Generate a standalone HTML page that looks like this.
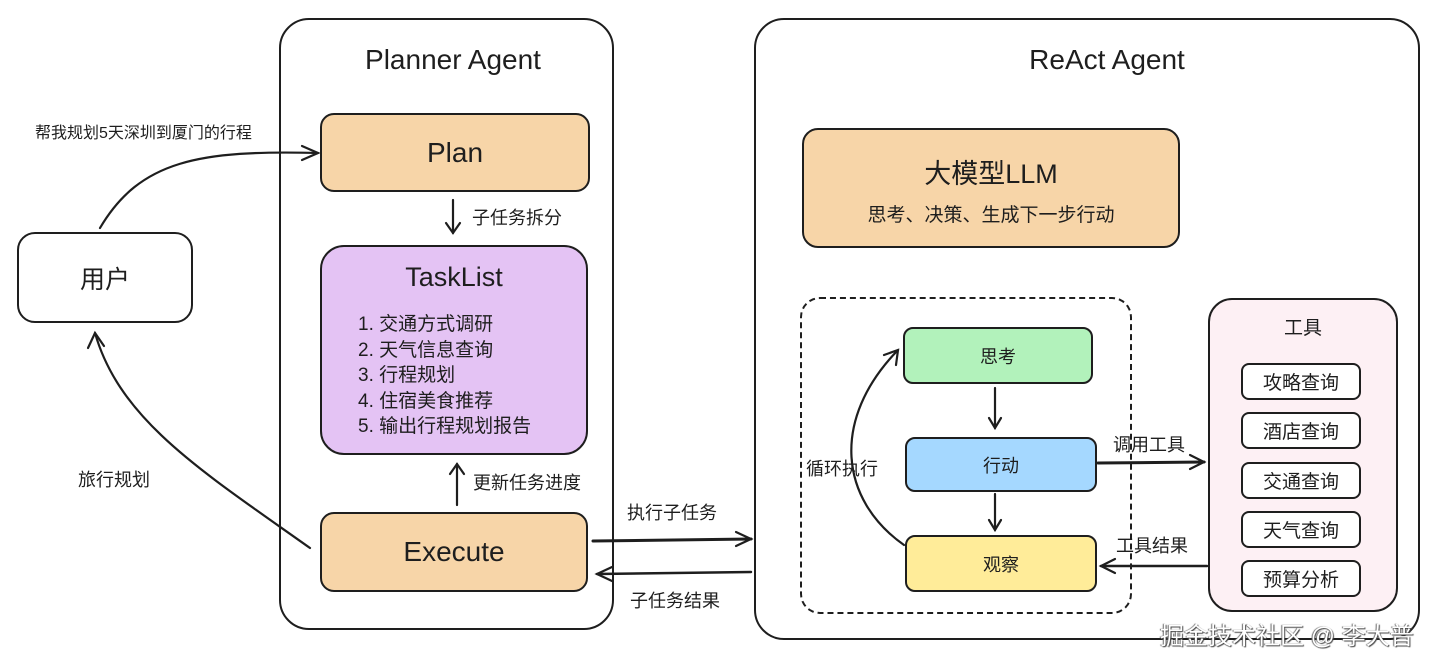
<!DOCTYPE html>
<html><head><meta charset="utf-8"><style>
body{margin:0;width:1440px;height:666px;background:#fff;overflow:hidden;position:relative;font-family:"Liberation Sans","Noto Sans CJK SC",sans-serif;color:#1e1e1e}
.b{position:absolute;box-sizing:border-box;border:2.5px solid #1e1e1e}
.t{position:absolute;white-space:nowrap}
.c{display:flex;align-items:center;justify-content:center}
</style></head><body>
<div class="b c" style="left:17px;top:232px;width:176px;height:91px;border-radius:18px;font-size:25px">用户</div>
<div class="b" style="left:279px;top:18px;width:335px;height:612px;border-radius:30px"></div>
<div class="t" style="left:279px;width:348px;text-align:center;top:44px;font-size:28px">Planner Agent</div>
<div class="b c" style="left:320px;top:113px;width:270px;height:79px;border-radius:14px;background:#f7d5a8;font-size:28px">Plan</div>
<div class="b" style="left:320px;top:245px;width:268px;height:210px;border-radius:24px;background:#e4c3f4"></div>
<div class="t" style="left:320px;width:268px;text-align:center;top:262px;font-size:27px">TaskList</div>
<div class="t" style="left:358px;top:312px;font-size:19px;line-height:25.5px">1. 交通方式调研<br>2. 天气信息查询<br>3. 行程规划<br>4. 住宿美食推荐<br>5. 输出行程规划报告</div>
<div class="b c" style="left:320px;top:512px;width:268px;height:80px;border-radius:14px;background:#f7d5a8;font-size:28px">Execute</div>
<div class="t" style="left:472px;top:204px;font-size:18px">子任务拆分</div>
<div class="t" style="left:473px;top:469px;font-size:18px">更新任务进度</div>
<div class="t" style="left:627px;top:499px;font-size:18px">执行子任务</div>
<div class="t" style="left:630px;top:587px;font-size:18px">子任务结果</div>
<div class="t" style="left:35px;top:119px;font-size:16px">帮我规划5天深圳到厦门的行程</div>
<div class="t" style="left:78px;top:466px;font-size:18px">旅行规划</div>

<div class="b" style="left:754px;top:18px;width:666px;height:622px;border-radius:30px"></div>
<div class="t" style="left:754px;width:706px;text-align:center;top:44px;font-size:28px">ReAct Agent</div>
<div class="b" style="left:802px;top:128px;width:378px;height:120px;border-radius:16px;background:#f7d5a8"></div>
<div class="t" style="left:802px;width:378px;text-align:center;top:152px;font-size:27px">大模型LLM</div>
<div class="t" style="left:802px;width:378px;text-align:center;top:200px;font-size:19px">思考、决策、生成下一步行动</div>
<div class="b" style="left:800px;top:297px;width:332px;height:317px;border-radius:20px;border-style:dashed"></div>
<div class="b c" style="left:903px;top:327px;width:190px;height:57px;border-radius:10px;background:#b2f2bb;font-size:18px">思考</div>
<div class="b c" style="left:905px;top:437px;width:192px;height:55px;border-radius:10px;background:#a5d8ff;font-size:18px">行动</div>
<div class="b c" style="left:905px;top:535px;width:192px;height:57px;border-radius:10px;background:#ffec99;font-size:18px">观察</div>
<div class="t" style="left:806px;top:455px;font-size:18px">循环执行</div>
<div class="t" style="left:1113px;top:431px;font-size:18px">调用工具</div>
<div class="t" style="left:1116px;top:532px;font-size:18px">工具结果</div>
<div class="b" style="left:1208px;top:298px;width:190px;height:314px;border-radius:24px;background:#fdf0f4"></div>
<div class="t" style="left:1208px;width:190px;text-align:center;top:313px;font-size:19px">工具</div>
<div class="b c" style="left:1241px;top:363px;width:120px;height:37px;border-radius:8px;background:#fff;font-size:19px">攻略查询</div>
<div class="b c" style="left:1241px;top:412px;width:120px;height:37px;border-radius:8px;background:#fff;font-size:19px">酒店查询</div>
<div class="b c" style="left:1241px;top:462px;width:120px;height:37px;border-radius:8px;background:#fff;font-size:19px">交通查询</div>
<div class="b c" style="left:1241px;top:511px;width:120px;height:37px;border-radius:8px;background:#fff;font-size:19px">天气查询</div>
<div class="b c" style="left:1241px;top:560px;width:120px;height:37px;border-radius:8px;background:#fff;font-size:19px">预算分析</div>

<svg style="position:absolute;left:0;top:0" width="1440" height="666" fill="none" stroke="#1e1e1e" stroke-width="2.2" stroke-linecap="round">
<path d="M100 228 C140 160 200 150 318 153"/><path d="M302 146 L318 153 L302 160"/>
<path d="M310 548 C200 470 120 420 95 333"/><path d="M88 348 L95 333 L104 346"/>
<path d="M453 200 V233"/><path d="M446 223 L453 233 L460 223"/>
<path d="M457 505 V464"/><path d="M450 474 L457 464 L464 474"/>
<path d="M593 541 L751 539" stroke-width="3"/><path d="M736 532 L751 539 L736 546"/>
<path d="M751 572 L597 574" stroke-width="2.5"/><path d="M612 567 L597 574 L612 581"/>
<path d="M995 388 V428"/><path d="M989 418 L995 428 L1001 418"/>
<path d="M995 494 V530"/><path d="M989 520 L995 530 L1001 520"/>
<path d="M904 545 C840 500 830 420 898 350"/><path d="M884 355 L898 350 L896 365"/>
<path d="M1098 463 L1204 462" stroke-width="3"/><path d="M1190 455 L1204 462 L1190 469"/>
<path d="M1207 566 L1101 566" stroke-width="2.5"/><path d="M1115 559 L1101 566 L1115 573"/>
</svg>
<div class="t" style="left:1160px;top:616px;font-size:24px;color:#fff;text-shadow:1px 1px 1px #444,-1px 0 1px #666">掘金技术社区 @ 李大普</div>
</body></html>
